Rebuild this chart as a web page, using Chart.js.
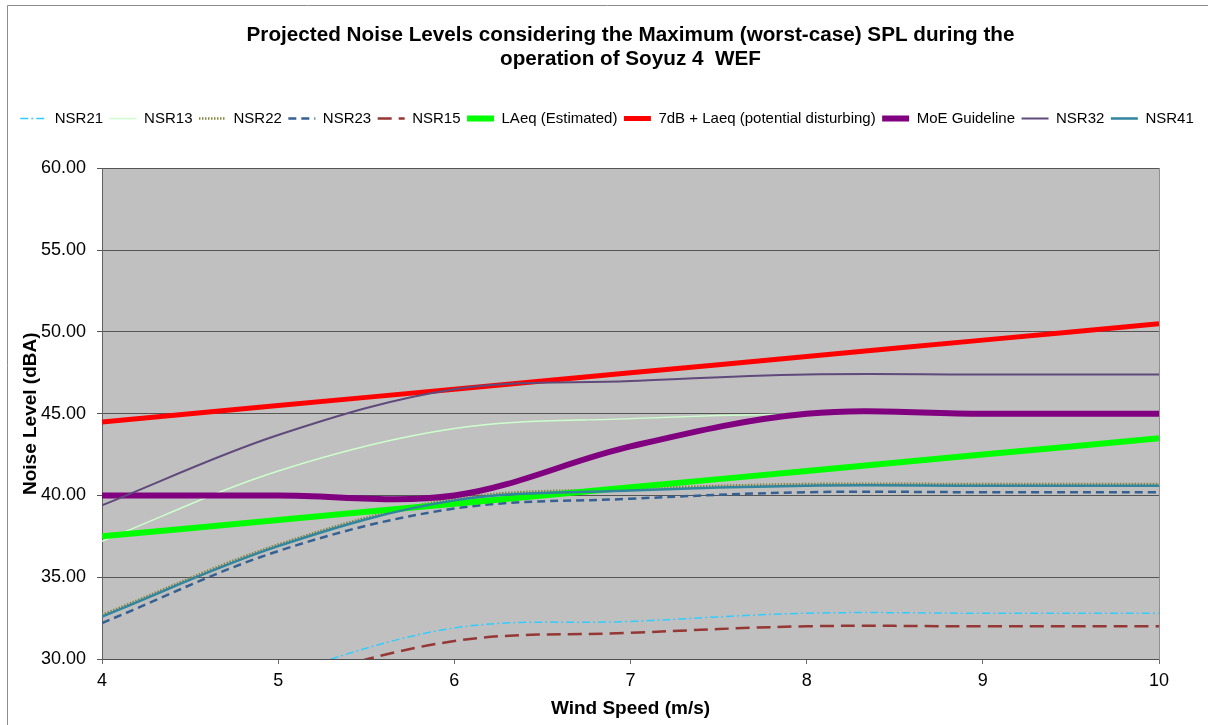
<!DOCTYPE html>
<html>
<head>
<meta charset="utf-8">
<script src="https://cdn.jsdelivr.net/npm/chart.js@4/dist/chart.umd.min.js"></script>
<style>
  html, body { margin: 0; padding: 0; background: #fff; }
  #wrap { width: 1208px; height: 725px; }
</style>
</head>
<body>
<div id="wrap"><canvas id="c" width="1208" height="725"></canvas></div>
<script>
// ---- data ----
const windSpeeds = [4, 5, 6, 7, 8, 9, 10];
const nsr21 = [25.5, 29.0, 31.9, 32.3, 32.8, 32.8, 32.8];
const nsr13 = [37.2, 41.5, 44.1, 44.7, 45.0, 45.0, 45.0];
const nsr22 = [32.7, 37.0, 39.8, 40.4, 40.7, 40.7, 40.7];
const nsr23 = [32.2, 36.6, 39.2, 39.8, 40.2, 40.2, 40.2];
const nsr15 = [24.5, 28.4, 31.1, 31.6, 32.0, 32.0, 32.0];
const laeqEstimated = [37.5, 38.5, 39.5, 40.5, 41.5, 42.5, 43.5];
const laeqPlus7 = [44.5, 45.5, 46.5, 47.5, 48.5, 49.5, 50.5];
const moeGuideline = [40, 40, 40, 43, 45, 45, 45];
const nsr32 = [39.4, 43.7, 46.5, 47.0, 47.4, 47.4, 47.4];
const nsr41 = [32.6, 36.9, 39.7, 40.3, 40.6, 40.6, 40.6];
const seriesNames = ['NSR21', 'NSR13', 'NSR22', 'NSR23', 'NSR15', 'LAeq (Estimated)',
  '7dB + Laeq (potential disturbing)', 'MoE Guideline', 'NSR32', 'NSR41'];
const yTicks = [30, 35, 40, 45, 50, 55, 60];
const xTicks = [4, 5, 6, 7, 8, 9, 10];
const titleLines = ['Projected Noise Levels considering the Maximum (worst-case) SPL during the',
  'operation of Soyuz 4  WEF'];

// ---- styles ----
const seriesValues = [nsr21, nsr13, nsr22, nsr23, nsr15, laeqEstimated, laeqPlus7, moeGuideline, nsr32, nsr41];
const styles = [
  { c: '#33CCFF', w: 1.5, d: [8, 3, 2, 3] },
  { c: '#CCFFCC', w: 1.5, d: [] },
  { c: '#858540', w: 2.5, d: [1.5, 1.5] },
  { c: '#366092', w: 2.5, d: [8, 5] },
  { c: '#953735', w: 2.5, d: [14, 7] },
  { c: '#00FF00', w: 6, d: [] },
  { c: '#FF0000', w: 5, d: [] },
  { c: '#800080', w: 6, d: [] },
  { c: '#5F4A7B', w: 2, d: [] },
  { c: '#31859C', w: 2.5, d: [] }
];

const FONT = "'Liberation Sans', Arial, Helvetica, sans-serif";
Chart.defaults.font.family = FONT;
Chart.defaults.color = '#000';

const datasets = seriesValues.map((vals, i) => ({
  label: seriesNames[i],
  data: windSpeeds.map((x, k) => ({ x: x, y: vals[k] })),
  borderColor: styles[i].c,
  backgroundColor: styles[i].c,
  borderWidth: styles[i].w,
  borderDash: styles[i].d,
  pointRadius: 0,
  pointHoverRadius: 0,
  tension: 0.35,
  fill: false,
  order: 20 - i
}));

const bgPlugin = {
  id: 'bgPlugin',
  beforeDraw(chart) {
    const { ctx, chartArea: a } = chart;
    ctx.save();
    ctx.fillStyle = '#ffffff';
    ctx.fillRect(0, 0, chart.width, chart.height);
    ctx.strokeStyle = '#8c8c8c';
    ctx.lineWidth = 1;
    ctx.beginPath();
    ctx.moveTo(7.5, chart.height);
    ctx.lineTo(7.5, 5.5);
    ctx.lineTo(chart.width, 5.5);
    ctx.stroke();
    ctx.fillStyle = '#C0C0C0';
    ctx.fillRect(a.left, a.top, a.right - a.left, a.bottom - a.top);
    ctx.restore();
  }
};

new Chart(document.getElementById('c'), {
  type: 'line',
  data: { datasets },
  plugins: [bgPlugin],
  options: {
    responsive: false,
    animation: false,
    devicePixelRatio: 1,
    layout: { padding: { left: 6, right: 0, top: 0, bottom: 0 } },
    plugins: {
      tooltip: { enabled: false },
      title: {
        display: true,
        text: titleLines,
        fullSize: false,
        color: '#000',
        font: { size: 20.7, weight: 'bold', lineHeight: 1.17 },
        padding: { top: 23, bottom: 33 }
      },
      legend: {
        display: true,
        position: 'top',
        labels: {
          usePointStyle: true,
          pointStyle: 'line',
          pointStyleWidth: 27,
          boxHeight: 15,
          padding: 6.5,
          color: '#000',
          font: { size: 15 },
          sort: (a, b) => a.datasetIndex - b.datasetIndex,
          generateLabels: (chart) => {
            const items = Chart.defaults.plugins.legend.labels.generateLabels(chart);
            items.forEach(it => {
              const ds = chart.data.datasets[it.datasetIndex];
              it.lineDash = ds.borderDash;
              it.lineWidth = ds.borderWidth;
              it.strokeStyle = ds.borderColor;
              it.lineCap = 'butt';
            });
            return items;
          }
        }
      }
    },
    scales: {
      x: {
        type: 'linear',
        position: 'bottom',
        min: 4, max: 10,
        afterBuildTicks: (s) => { s.ticks = xTicks.map(v => ({ value: v })); },
        afterFit: (s) => { s.height = 66; },
        ticks: { font: { size: 18 }, padding: 6, color: '#000', maxRotation: 0 },
        grid: { drawOnChartArea: false, drawTicks: true, tickLength: 5, color: '#6a6a6a' },
        border: { display: true, color: '#505050', width: 1 },
        title: { display: true, text: 'Wind Speed (m/s)', font: { size: 19, weight: 'bold', lineHeight: 1.2 }, padding: { top: 0, bottom: 5 }, color: '#000' }
      },
      xTop: {
        type: 'linear',
        position: 'top',
        display: true,
        min: 4, max: 10,
        ticks: { display: false },
        grid: { display: false },
        border: { display: false },
        afterFit: (s) => { s.height = 32.5; }
      },
      y: {
        type: 'linear',
        position: 'left',
        min: 30, max: 60,
        afterBuildTicks: (s) => { s.ticks = yTicks.map(v => ({ value: v })); },
        afterFit: (s) => { s.width = 96; },
        ticks: { font: { size: 18 }, padding: 11, color: '#000', callback: (v) => Number(v).toFixed(2) },
        grid: { color: '#555555', tickLength: 5, lineWidth: 1 },
        border: { display: true, color: '#606060', width: 1 },
        title: { display: true, text: 'Noise Level (dBA)', font: { size: 19, weight: 'bold', lineHeight: 1.2 }, padding: { top: 13, bottom: 0 }, color: '#000' }
      },
      yRight: {
        type: 'linear',
        position: 'right',
        display: true,
        min: 30, max: 60,
        ticks: { display: false },
        grid: { display: false },
        border: { display: true, color: '#909090', width: 1 },
        afterFit: (s) => { s.width = 49; }
      }
    }
  }
});
</script>
</body>
</html>
